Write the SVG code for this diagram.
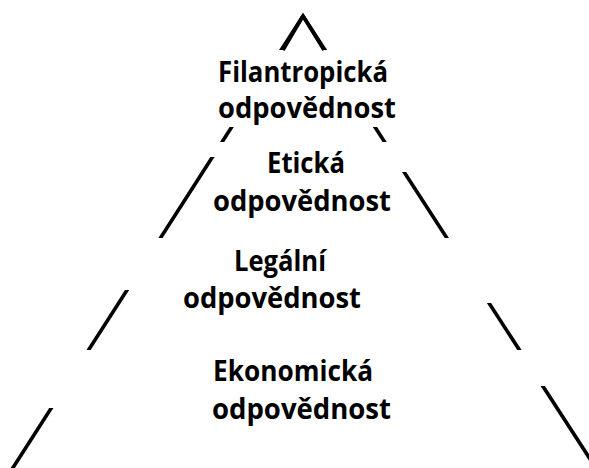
<svg xmlns="http://www.w3.org/2000/svg" width="589" height="468" viewBox="0 0 589 468">
  <style>
    .edge { fill: none; stroke: #000; stroke-width: 3.6; stroke-linejoin: miter; stroke-miterlimit: 10; }
    .label { font-family: "Open Sans", "Liberation Sans", sans-serif; font-weight: bold; font-size: 28px; fill: #000; }
  </style>
  <defs>
    <!-- visible horizontal bands of the broken pyramid sides -->
    <clipPath id="leftBands">
      <rect x="0" y="0" width="303" height="50"/>
      <rect x="0" y="127" width="303" height="15"/>
      <rect x="0" y="157" width="303" height="81"/>
      <rect x="0" y="290" width="303" height="60"/>
      <rect x="0" y="408" width="303" height="60"/>
    </clipPath>
    <clipPath id="rightBands">
      <rect x="303" y="0" width="286" height="50"/>
      <rect x="303" y="127" width="286" height="15"/>
      <rect x="303" y="172" width="286" height="66"/>
      <rect x="303" y="303" width="286" height="47"/>
      <rect x="303" y="386" width="286" height="82"/>
    </clipPath>
  </defs>
  <rect width="589" height="468" fill="#fff"/>

  <g id="connectors">
    <path class="edge" d="M283 50 L303 16 L324 50"/>
    <line class="edge" x1="303" y1="16" x2="11.5" y2="470" clip-path="url(#leftBands)"/>
    <line class="edge" x1="303" y1="16" x2="597.2" y2="470" clip-path="url(#rightBands)"/>
  </g>

  <g id="filantropicka">
    <text class="label" x="218" y="82" textLength="170" lengthAdjust="spacingAndGlyphs">Filantropická</text>
    <text class="label" x="218" y="118" textLength="178" lengthAdjust="spacingAndGlyphs">odpovědnost</text>
  </g>
  <g id="eticka">
    <text class="label" x="267" y="173" textLength="78" lengthAdjust="spacingAndGlyphs">Etická</text>
    <text class="label" x="213" y="211" textLength="178" lengthAdjust="spacingAndGlyphs">odpovědnost</text>
  </g>
  <g id="legalni">
    <text class="label" x="234" y="271" textLength="92" lengthAdjust="spacingAndGlyphs">Legální</text>
    <text class="label" x="183" y="308" textLength="178" lengthAdjust="spacingAndGlyphs">odpovědnost</text>
  </g>
  <g id="ekonomicka">
    <text class="label" x="213" y="381" textLength="160" lengthAdjust="spacingAndGlyphs">Ekonomická</text>
    <text class="label" x="212" y="419" textLength="179" lengthAdjust="spacingAndGlyphs">odpovědnost</text>
  </g>
</svg>
